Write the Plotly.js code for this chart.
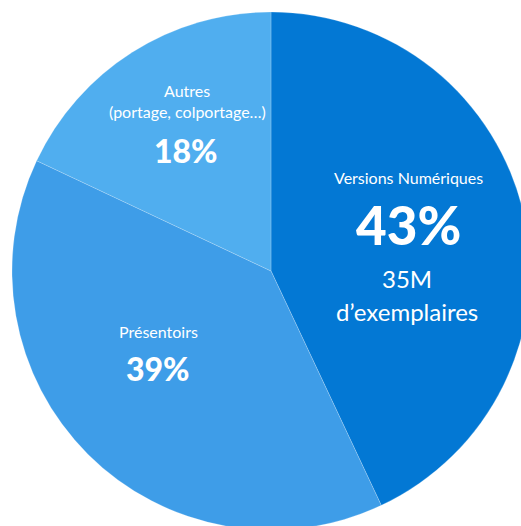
<!DOCTYPE html>
<html>
<head>
<meta charset="utf-8">
<script src="https://cdn.plot.ly/plotly-3.0.1.min.js"></script>
<style>
html,body{margin:0;padding:0;overflow:hidden;background:#fff;width:521px;height:526px;}
#chart{width:542px;height:542px;}
</style>
</head>
<body>
<div id="chart"></div>
<script>
// ---- data ----
const categories = ['Versions Numériques', 'Présentoirs', 'Autres'];
const subtitles = ['', '', '(portage, colportage…)'];
const shares = [43, 39, 18];
const extraLines = [['35M', 'd’exemplaires'], [], []];
const colors = ['#0378d4', '#3e9de8', '#50aeef'];

// ---- layout helpers (text placement, in page pixels) ----
const W = 542, H = 542, M = 12;
const px = x => (x - M) / (W - 2 * M);
const py = y => 1 - (y - M) / (H - 2 * M);

const textPlaces = [
  {name: [408, 177.5], pct: [408, 224], extra: [[407, 278.5], [407, 311]], pctSize: 53},
  {name: [158, 331.5], pct: [158, 368.5], extra: [], pctSize: 32},
  {name: [187, 90.5], sub: [187, 111.5], pct: [186, 150.5], extra: [], pctSize: 32}
];

const annotations = [];
const base = {xref: 'paper', yref: 'paper', showarrow: false, xanchor: 'center', yanchor: 'middle'};
categories.forEach((c, i) => {
  const p = textPlaces[i];
  annotations.push(Object.assign({}, base, {x: px(p.name[0]), y: py(p.name[1]), text: c,
    font: {family: 'Lato', size: 16, color: '#ffffff'}}));
  if (subtitles[i]) annotations.push(Object.assign({}, base, {x: px(p.sub[0]), y: py(p.sub[1]), text: subtitles[i],
    font: {family: 'Lato', size: 16, color: '#ffffff'}}));
  annotations.push(Object.assign({}, base, {x: px(p.pct[0]), y: py(p.pct[1]), text: shares[i] + '%',
    font: {family: 'Lato', size: p.pctSize, color: '#ffffff', weight: 900}}));
  extraLines[i].forEach((t, k) => {
    annotations.push(Object.assign({}, base, {x: px(p.extra[k][0]), y: py(p.extra[k][1]), text: t,
      font: {family: 'Lato', size: 24, color: '#ffffff'}}));
  });
});

const trace = {
  type: 'pie',
  labels: categories,
  values: shares,
  sort: false,
  direction: 'clockwise',
  rotation: 0,
  marker: {colors: colors, line: {color: 'rgba(255,255,255,0.2)', width: 1}},
  textinfo: 'none',
  hoverinfo: 'none',
  showlegend: false
};

const layout = {
  width: W, height: H,
  margin: {l: M, r: M, t: M, b: M},
  paper_bgcolor: '#ffffff',
  showlegend: false,
  annotations: annotations
};

Plotly.newPlot('chart', [trace], layout, {staticPlot: true, displayModeBar: false});
</script>
</body>
</html>
